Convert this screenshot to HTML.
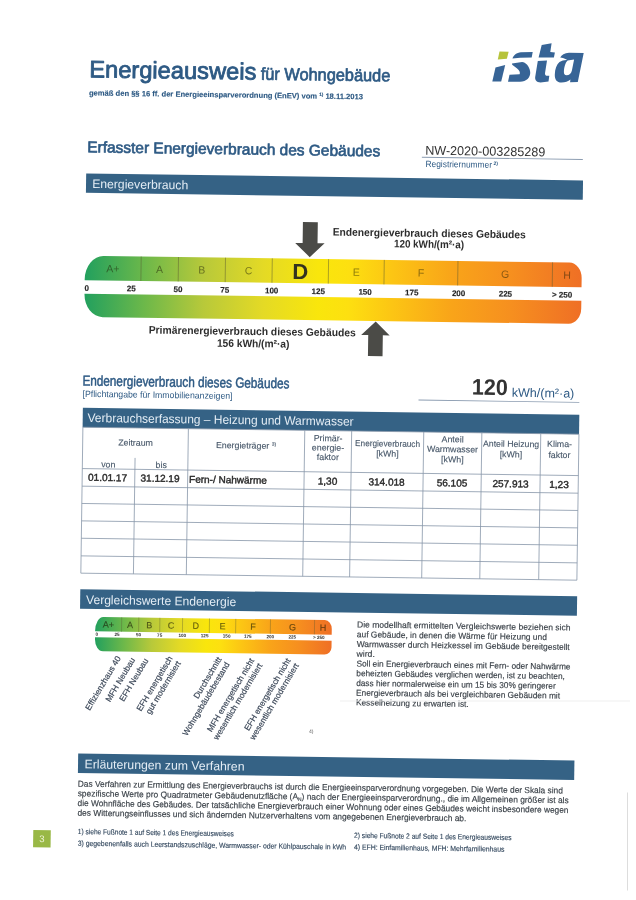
<!DOCTYPE html>
<html><head><meta charset="utf-8">
<style>
html,body{margin:0;padding:0;background:#fff;width:636px;height:900px;overflow:hidden}
svg{display:block;will-change:transform}
text{font-family:"Liberation Sans",sans-serif}
.b{font-weight:bold}
.sb{font-weight:normal;stroke-linejoin:round}
.blue{fill:#2e5a84}
.dk{fill:#333}
.wt{fill:#e4edf5}
</style></head><body>
<svg width="636" height="900" viewBox="0 0 636 900">
<defs>
<linearGradient id="sg" x1="82.3" y1="0" x2="579.2" y2="0" gradientUnits="userSpaceOnUse">
<stop offset="0" stop-color="#22a05e"/>
<stop offset="0.12" stop-color="#6cb84a"/>
<stop offset="0.24" stop-color="#b8c93a"/>
<stop offset="0.36" stop-color="#e4da25"/>
<stop offset="0.47" stop-color="#f9e60c"/>
<stop offset="0.53" stop-color="#fde010"/>
<stop offset="0.62" stop-color="#fcc514"/>
<stop offset="0.74" stop-color="#f9a419"/>
<stop offset="0.86" stop-color="#f68f1f"/>
<stop offset="1" stop-color="#ef6f25"/>
</linearGradient>
<linearGradient id="sg2" x1="97.7" y1="0" x2="334.3" y2="0" gradientUnits="userSpaceOnUse">
<stop offset="0" stop-color="#22a05e"/>
<stop offset="0.12" stop-color="#6cb84a"/>
<stop offset="0.24" stop-color="#b8c93a"/>
<stop offset="0.36" stop-color="#e4da25"/>
<stop offset="0.47" stop-color="#f9e60c"/>
<stop offset="0.53" stop-color="#fde010"/>
<stop offset="0.62" stop-color="#fcc514"/>
<stop offset="0.74" stop-color="#f9a419"/>
<stop offset="0.86" stop-color="#f68f1f"/>
<stop offset="1" stop-color="#ef6f25"/>
</linearGradient>
</defs>
<g transform="rotate(0.81 318 450)">

<!-- HEADER -->
<text x="84" y="80.6" class="sb blue" stroke="#2e5a84" stroke-width="0.85" font-size="23.7" textLength="167" lengthAdjust="spacingAndGlyphs">Energieausweis</text>
<text x="255.5" y="80.5" class="sb blue" stroke="#2e5a84" stroke-width="0.7" font-size="17.3" textLength="129.5" lengthAdjust="spacingAndGlyphs">für Wohngebäude</text>
<text x="84" y="98.7" class="b blue" stroke="#2e5a84" stroke-width="0.15" font-size="7.6" textLength="274" lengthAdjust="spacingAndGlyphs">gemäß den §§ 16 ff. der Energieeinsparverordnung (EnEV) vom <tspan font-size="4.6" dy="-2.6">1)</tspan><tspan dy="2.6"> 18.11.2013</tspan></text>


<text x="83" y="155.6" class="sb blue" stroke="#2e5a84" stroke-width="0.65" font-size="15.5" textLength="293" lengthAdjust="spacingAndGlyphs">Erfasster Energieverbrauch des Gebäudes</text>
<text x="421" y="153.2" class="dk" font-size="12.8" textLength="120" lengthAdjust="spacingAndGlyphs">NW-2020-003285289</text>
<rect x="417.7" y="155.4" width="161" height="0.8" fill="#8a9bb0"/>
<text x="421.5" y="165.4" class="blue" font-size="9" textLength="66.5" lengthAdjust="spacingAndGlyphs">Registriernummer</text>
<text x="489.5" y="162.5" class="blue b" font-size="5">2)</text>

<!-- Bar 1 -->
<rect x="82.3" y="176.7" width="496.9" height="19.4" fill="#356285"/>
<text x="88.5" y="191.2" class="wt" font-size="12.4" textLength="96" lengthAdjust="spacingAndGlyphs">Energieverbrauch</text>

<!-- Scale -->
<path id="upper" d="M82.3 283.5 L82.3 282.5 A18.5 23.5 0 0 1 100.8 259 L566.7 259 A12.5 15.5 0 0 1 579.2 274.5 L579.2 283.5 Z" fill="url(#sg)"/>
<path id="lower" d="M82.3 297 L579.2 297 L579.2 304.7 A12.5 15.5 0 0 1 566.7 320.2 L100.8 320.2 A18.5 23 0 0 1 82.3 297.2 Z" fill="url(#sg)"/>
<g stroke="#5a5a30" stroke-opacity="0.6" stroke-width="0.8">
<line x1="138.5" y1="259" x2="138.5" y2="283.5"/>
<line x1="175.8" y1="259" x2="175.8" y2="283.5"/>
<line x1="222.8" y1="259" x2="222.8" y2="283.5"/>
<line x1="269.6" y1="259" x2="269.6" y2="283.5"/>
<line x1="325.9" y1="259" x2="325.9" y2="283.5"/>
<line x1="381.6" y1="259" x2="381.6" y2="283.5"/>
<line x1="455.3" y1="259" x2="455.3" y2="283.5"/>
<line x1="549.9" y1="259" x2="549.9" y2="283.5"/>
</g>
<g font-size="10.5" fill="#1e1e05" fill-opacity="0.52" text-anchor="middle">
<text x="110.4" y="275.2">A+</text>
<text x="157.1" y="275.2">A</text>
<text x="199.3" y="275.2">B</text>
<text x="246.2" y="275.2">C</text>
<text x="353.7" y="275.2">E</text>
<text x="418.4" y="275.2">F</text>
<text x="502.6" y="275.2">G</text>
<text x="564.5" y="275.2">H</text>
</g>
<text x="297.7" y="279.3" text-anchor="middle" class="b" font-size="22" fill="#33331f">D</text>
<g font-size="8" class="b" fill="#262626" stroke="#262626" stroke-width="0.15" text-anchor="middle">
<text x="82.4" y="294" text-anchor="start">0</text>
<text x="129.1" y="294">25</text>
<text x="175.8" y="294">50</text>
<text x="222.6" y="294">75</text>
<text x="269.4" y="294">100</text>
<text x="316.1" y="294">125</text>
<text x="362.9" y="294">150</text>
<text x="409.6" y="294">175</text>
<text x="456.4" y="294">200</text>
<text x="503.2" y="294">225</text>
<text x="570" y="294" text-anchor="end">&gt; 250</text>
</g>
<!-- down arrow -->
<path d="M299.7 222.3 L314.6 222.3 L314.6 243.3 L321.7 243.3 L307 257.3 L292.3 243.3 L299.7 243.3 Z" fill="#4b4b47"/>
<g class="b" fill="#2e2e2e" font-size="10.8" text-anchor="middle">
<text x="426.2" y="235.4" textLength="193" lengthAdjust="spacingAndGlyphs">Endenergieverbrauch dieses Gebäudes</text>
<text x="426.1" y="246.3" textLength="70" lengthAdjust="spacingAndGlyphs">120 kWh/(m²·a)</text>
</g>
<!-- up arrow -->
<path d="M373.9 320.7 L388 334.4 L381.2 334.4 L381.2 355.3 L366.6 355.3 L366.6 334.4 L359.5 334.4 Z" fill="#4b4b47"/>
<g class="b" fill="#2e2e2e" font-size="10.8" text-anchor="middle">
<text x="250.6" y="335.9" textLength="207" lengthAdjust="spacingAndGlyphs">Primärenergieverbrauch dieses Gebäudes</text>
<text x="251.7" y="348.1" textLength="72.5" lengthAdjust="spacingAndGlyphs">156 kWh/(m²·a)</text>
</g>

<!-- Endenergieverbrauch heading -->
<text x="81.5" y="388.8" class="sb blue" stroke="#2e5a84" stroke-width="0.5" font-size="14.3" textLength="207" lengthAdjust="spacingAndGlyphs">Endenergieverbrauch dieses Gebäudes</text>
<text x="81.8" y="400.2" class="blue" font-size="9" textLength="150" lengthAdjust="spacingAndGlyphs">[Pflichtangabe für Immobilienanzeigen]</text>
<text x="471" y="392.4" class="b dk" font-size="22.5" textLength="36" lengthAdjust="spacingAndGlyphs">120</text>
<text x="511" y="394" class="blue" font-size="12.5" textLength="62.5" lengthAdjust="spacingAndGlyphs">kWh/(m²·a)</text>
<rect x="417.8" y="398.2" width="160.8" height="0.8" fill="#8a9bb0"/>

<!-- Bar 2 + table -->
<rect x="82.3" y="411.1" width="496.5" height="19.4" fill="#356285"/>
<text x="87.2" y="425.2" class="wt" font-size="12.4" textLength="266" lengthAdjust="spacingAndGlyphs">Verbrauchserfassung – Heizung und Warmwasser</text>
<g stroke="#8797a9" stroke-width="0.8" fill="none">
<rect x="82.6" y="430.5" width="496.1" height="146"/>
<line x1="82.6" y1="471.9" x2="578.7" y2="471.9"/>
<line x1="82.6" y1="489.5" x2="578.7" y2="489.5"/>
<line x1="82.6" y1="506.8" x2="578.7" y2="506.8"/>
<line x1="82.6" y1="524.2" x2="578.7" y2="524.2"/>
<line x1="82.6" y1="541.6" x2="578.7" y2="541.6"/>
<line x1="82.6" y1="559.2" x2="578.7" y2="559.2"/>
<line x1="135.2" y1="460.5" x2="135.2" y2="576.5"/>
<line x1="188.1" y1="430.5" x2="188.1" y2="576.5"/>
<line x1="304.5" y1="430.5" x2="304.5" y2="576.5"/>
<line x1="351.4" y1="430.5" x2="351.4" y2="576.5"/>
<line x1="423.5" y1="430.5" x2="423.5" y2="576.5"/>
<line x1="481.6" y1="430.5" x2="481.6" y2="576.5"/>
<line x1="540.5" y1="430.5" x2="540.5" y2="576.5"/>
</g>
<g fill="#465668" stroke="#465668" stroke-width="0.12" font-size="8.8" text-anchor="middle">
<text x="135.5" y="448.3">Zeitraum</text>
<text x="108.5" y="470.4">von</text>
<text x="161.5" y="470.2">bis</text>
<text x="246" y="449.5">Energieträger <tspan font-size="5" dy="-3">3)</tspan></text>
<text x="328" y="441.1">Primär-</text>
<text x="328" y="450.5">energie-</text>
<text x="328" y="459.9">faktor</text>
<text x="387.5" y="445.6" textLength="65" lengthAdjust="spacingAndGlyphs">Energieverbrauch</text>
<text x="387.5" y="455.6">[kWh]</text>
<text x="452.5" y="440.4">Anteil</text>
<text x="452.5" y="450.3">Warmwasser</text>
<text x="452.5" y="460.5">[kWh]</text>
<text x="511" y="444.2" textLength="56" lengthAdjust="spacingAndGlyphs">Anteil Heizung</text>
<text x="511" y="454.6">[kWh]</text>
<text x="559.5" y="443.6">Klima-</text>
<text x="559.5" y="454.6">faktor</text>
</g>
<g fill="#2a2a2a" stroke="#2a2a2a" stroke-width="0.4" font-size="10">
<text x="88.5" y="484">01.01.17</text>
<text x="141" y="484">31.12.19</text>
<text x="189.5" y="484.5">Fern-/ Nahwärme</text>
<g text-anchor="middle">
<text x="328" y="484.5">1,30</text>
<text x="387" y="484.5">314.018</text>
<text x="452.5" y="484.5">56.105</text>
<text x="511" y="484.5">257.913</text>
<text x="559.5" y="484.5">1,23</text>
</g>
</g>

<!-- Bar 3 Vergleichswerte -->
<rect x="82.3" y="592.5" width="496.9" height="19.6" fill="#356285"/>
<text x="88.3" y="607.2" class="wt" font-size="12.4" textLength="150" lengthAdjust="spacingAndGlyphs">Vergleichswerte Endenergie</text>

<!-- small scale -->
<path d="M97.7 634.5 L97.7 634 A8 14 0 0 1 105.7 620 L327.3 620 A7 9 0 0 1 334.3 629 L334.3 634.5 Z" fill="url(#sg2)"/>
<path d="M97.7 640.5 L334.3 640.5 L334.3 647.3 A7 7 0 0 1 327.3 654.3 L105.7 654.3 A8 12 0 0 1 97.7 642.3 Z" fill="url(#sg2)"/>
<g stroke="#5a5a30" stroke-opacity="0.6" stroke-width="0.6">
<line x1="124.1" y1="620" x2="124.1" y2="634.5"/>
<line x1="141.2" y1="620" x2="141.2" y2="634.5"/>
<line x1="162.3" y1="620" x2="162.3" y2="634.5"/>
<line x1="185" y1="620" x2="185" y2="634.5"/>
<line x1="211.9" y1="620" x2="211.9" y2="634.5"/>
<line x1="238.2" y1="620" x2="238.2" y2="634.5"/>
<line x1="272.9" y1="620" x2="272.9" y2="634.5"/>
<line x1="317" y1="620" x2="317" y2="634.5"/>
</g>
<g font-size="9" fill="#1e1e05" fill-opacity="0.62" stroke="#1e1e05" stroke-opacity="0.5" stroke-width="0.2" text-anchor="middle">
<text x="110.9" y="630.6">A+</text>
<text x="132.6" y="630.6">A</text>
<text x="151.7" y="630.6">B</text>
<text x="173.6" y="630.6">C</text>
<text x="198.4" y="630.6">D</text>
<text x="225" y="630.6">E</text>
<text x="255.5" y="630.6">F</text>
<text x="295" y="630.6">G</text>
<text x="325.6" y="630.6">H</text>
</g>
<g font-size="4.6" class="b" fill="#333" text-anchor="middle">
<text x="98.2" y="638.9" text-anchor="start">0</text>
<text x="119.6" y="638.9">25</text>
<text x="141.2" y="638.9">50</text>
<text x="162.3" y="638.9">75</text>
<text x="185" y="638.9">100</text>
<text x="207.3" y="638.9">125</text>
<text x="229.3" y="638.9">150</text>
<text x="250.5" y="638.9">175</text>
<text x="273" y="638.9">200</text>
<text x="295" y="638.9">225</text>
<text x="321.5" y="638.9">&gt; 250</text>
</g>

<!-- rotated labels -->
<g font-size="8.4" fill="#3a4657" stroke="#3a4657" stroke-width="0.18" text-anchor="end">
<text transform="translate(124.1 661.0) rotate(-60)">Effizienzhaus 40</text>
<text transform="translate(138.4 662.3) rotate(-60)">MFH Neubau</text>
<text transform="translate(151.6 662.8) rotate(-60)">EFH Neubau</text>
<text transform="translate(175.9 660.3) rotate(-60)">EFH energetisch<tspan x="0" dy="9.5">gut modernisiert</tspan></text>
<text transform="translate(224.8 660.7) rotate(-60)">Durchschnitt<tspan x="0" dy="9.5">Wohngebäudebestand</tspan></text>
<text transform="translate(257.5 661.4) rotate(-60)">MFH energetisch nicht<tspan x="0" dy="9.5">wesentlich modernisiert</tspan></text>
<text transform="translate(293.9 660.9) rotate(-60)">EFH energetisch nicht<tspan x="0" dy="9.5">wesentlich modernisiert</tspan></text>
</g>
<text x="313" y="733" font-size="5" fill="#555">4)</text>

<!-- paragraph right -->
<g font-size="8.6" fill="#3a4148" stroke="#3a4148" stroke-width="0.15">
<text x="359.5" y="626.9" textLength="213.5" lengthAdjust="spacingAndGlyphs">Die modellhaft ermittelten Vergleichswerte beziehen sich</text>
<text x="359.5" y="636.7" textLength="190" lengthAdjust="spacingAndGlyphs">auf Gebäude, in denen die Wärme für Heizung und</text>
<text x="359.5" y="646.4" textLength="213" lengthAdjust="spacingAndGlyphs">Warmwasser durch Heizkessel im Gebäude bereitgestellt</text>
<text x="359.5" y="656.1" textLength="18.2" lengthAdjust="spacingAndGlyphs">wird.</text>
<text x="359.5" y="665.9" textLength="214" lengthAdjust="spacingAndGlyphs">Soll ein Energieverbrauch eines mit Fern- oder Nahwärme</text>
<text x="359.5" y="675.6" textLength="208.5" lengthAdjust="spacingAndGlyphs">beheizten Gebäudes verglichen werden, ist zu beachten,</text>
<text x="359.5" y="685.4" textLength="199.5" lengthAdjust="spacingAndGlyphs">dass hier normalerweise ein um 15 bis 30% geringerer</text>
<text x="359.5" y="695.1" textLength="204" lengthAdjust="spacingAndGlyphs">Energieverbrauch als bei vergleichbaren Gebäuden mit</text>
<text x="359.5" y="704.8" textLength="112.8" lengthAdjust="spacingAndGlyphs">Kesselheizung zu erwarten ist.</text>
</g>

<!-- Bar 4 Erläuterungen -->
<rect x="82.5" y="756.9" width="496.3" height="19.4" fill="#356285"/>
<text x="89" y="771.6" class="wt" font-size="12.4" textLength="160" lengthAdjust="spacingAndGlyphs">Erläuterungen zum Verfahren</text>
<g font-size="8.7" fill="#3a4148" stroke="#3a4148" stroke-width="0.15">
<text x="82.6" y="790" textLength="485" lengthAdjust="spacingAndGlyphs">Das Verfahren zur Ermittlung des Energieverbrauchs ist durch die Energieeinsparverordnung vorgegeben. Die Werte der Skala sind</text>
<text x="82.6" y="799.7" textLength="491" lengthAdjust="spacingAndGlyphs">spezifische Werte pro Quadratmeter Gebäudenutzfläche (A<tspan font-size="5" dy="1.5">N</tspan><tspan dy="-1.5">) nach der Energieeinsparverordnung., die im Allgemeinen größer ist als</tspan></text>
<text x="82.6" y="809.4" textLength="491" lengthAdjust="spacingAndGlyphs">die Wohnfläche des Gebäudes. Der tatsächliche Energieverbrauch einer Wohnung oder eines Gebäudes weicht insbesondere wegen</text>
<text x="82.6" y="819.1" textLength="389" lengthAdjust="spacingAndGlyphs">des Witterungseinflusses und sich ändernden Nutzerverhaltens vom angegebenen Energieverbrauch ab.</text>
</g>
<g font-size="7.4" fill="#34495f" stroke="#34495f" stroke-width="0.15">
<text x="83.3" y="837.4" textLength="156" lengthAdjust="spacingAndGlyphs">1) siehe Fußnote 1 auf Seite 1 des Energieausweises</text>
<text x="83.3" y="849.1" textLength="268.5" lengthAdjust="spacingAndGlyphs">3) gegebenenfalls auch Leerstandszuschläge, Warmwasser- oder Kühlpauschale in kWh</text>
<text x="359.6" y="837.3" textLength="157.5" lengthAdjust="spacingAndGlyphs">2) siehe Fußnote 2 auf Seite 1 des Energieausweises</text>
<text x="359.6" y="849" textLength="150.5" lengthAdjust="spacingAndGlyphs">4) EFH: Einfamilienhaus, MFH: Mehrfamilienhaus</text>
</g>
<rect x="38.7" y="833.9" width="17.5" height="17.3" fill="#99b846"/>
<text x="47.4" y="846" font-size="9.5" fill="#eef3d6" text-anchor="middle">3</text>
</g>
<rect x="340" y="700.6" width="290" height="0.8" fill="#ececec"/>
<rect x="627" y="792.5" width="0.9" height="98" fill="#dadada"/>
<g id="logo" fill="#376496">
<path d="M499.5 51.6 L508.6 51.8 L506.9 58.8 L497.8 59.6 Z" fill="#b6c33b"/>
<path d="M495.5 67.4 L505.2 65.1 L501.2 81.6 L492.3 81.6 Z"/>
<path d="M512.5 58.5 C513.5 55.5 516.5 52.6 521 52.3 L532.7 52 L531.7 57.6 L520.1 57.8 Z"/>
<path d="M512 63.6 L522.1 62.1 C525.5 62.5 529.5 66 530.2 72 C530.6 77.5 526.5 81.7 520 81.7 L508 81.7 L509.5 74.7 L519.6 74.2 C520.5 72.8 519.5 70.8 517.1 68.6 L512.2 64.8 Z"/>
<path d="M541.7 45.1 L551.6 43.3 L550.3 52 L554.9 52.5 L553.9 57.6 L538.6 57.6 Z"/>
<path d="M537.8 60.9 L547 60.4 L545 73.2 C544.8 74.8 545.8 75.8 547.5 75.8 L549.3 75.8 L548.5 81.5 L540.5 82.4 C536.5 82.4 534.8 80 535.2 77 Z"/>
<path fill-rule="evenodd" d="M560.2 57.6 C561.5 55 564.5 53 569 52.8 L583.7 53.1 L577.8 82 L570.1 82.2 L570.4 79.6 C568.3 81.7 565 82.6 561.5 82.6 C556.8 82.6 554.6 79.5 554.8 74.5 C555 69 556.5 64.5 559.5 62 C561.5 60.7 564 60.2 566.5 60 L566.8 59.6 C565 58.8 562.5 58 560.2 57.6 Z M567.6 60.4 L574.1 59.4 L571.9 70.4 C571.3 73.5 569.3 75.2 566.5 75.2 C564.6 75.2 563.8 73.8 563.9 71.8 C564 67.5 565.2 62.5 567.6 60.4 Z"/>
</g>
</svg>
</body></html>
